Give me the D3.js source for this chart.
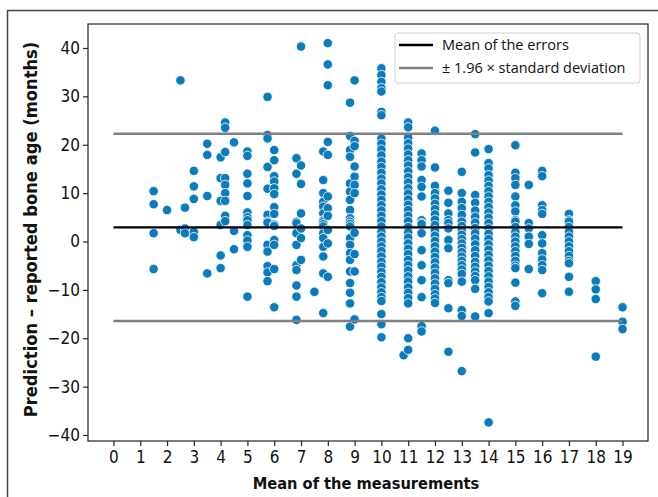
<!DOCTYPE html>
<html><head><meta charset="utf-8">
<script src="https://cdn.jsdelivr.net/npm/d3@7"></script>
<style>
html,body{margin:0;padding:0;background:#fff;}
svg{display:block;}
.tick text{font-family:"Liberation Sans Narrow","DejaVu Sans Condensed","Liberation Sans",sans-serif;font-size:17px;fill:#111;}
</style>
</head><body>
<svg id="chart" width="658" height="497"></svg>
<script>
// x positions (mean of the measurements) of each column of points
const columnX = [1.5, 2.0, 2.5, 2.67, 3.0, 3.5, 4.0, 4.17, 4.5, 5.0, 5.75, 6.0, 6.83, 7.0, 7.5, 7.83, 8.0, 8.83, 9.0, 10.0, 10.83, 11.0, 11.5, 12.0, 12.5, 13.0, 13.5, 14.0, 15.0, 15.5, 16.0, 17.0, 18.0, 19.0];
// differences (prediction - reported bone age, months) in each column
const columnY = [
  [10.4, 7.7, 1.7, -5.7],
  [6.5],
  [33.3, 2.4],
  [7.0, 2.7, 1.7],
  [14.6, 11.4, 8.8, 2.0, 0.9],
  [20.2, 17.9, 9.4, -6.6],
  [17.4, 13.1, 8.4, 3.5, 3.4, -2.9, -5.5],
  [24.6, 23.5, 18.5, 13.1, 11.7, 10.0, 8.4, 5.3, 4.2],
  [20.5, 2.2, -1.6],
  [18.6, 17.7, 14.0, 12.0, 9.4, 6.0, 5.0, 4.4, 3.4, 1.3, 0.2, -1.1, -11.4],
  [29.9, 22.0, 21.3, 15.4, 10.9, 5.5, 4.1, 3.9, -0.7, -2.1, -5.1, -6.4, -8.2],
  [18.9, 16.8, 13.5, 12.4, 11.0, 9.8, 7.1, 5.7, 3.5, 3.2, 0.3, -0.7, -5.7, -13.6],
  [17.2, 14.0, 4.1, 3.8, 1.7, -0.7, -4.9, -5.9, -9.1, -11.4, -16.2],
  [40.3, 15.7, 11.9, 5.8, 2.7, 0.7, -3.8],
  [-10.4],
  [18.6, 12.7, 10.0, 8.2, 7.2, 5.8, 4.4, 4.1, 3.6, 3.1, 1.7, 0.7, -1.1, -3.1, -6.6, -14.8],
  [41.0, 36.6, 32.3, 20.6, 17.9, 9.3, 6.9, 5.3, 2.4, -0.4, -7.3],
  [28.7, 21.8, 18.9, 17.5, 12.0, 10.3, 8.6, 6.5, 4.8, 4.1, 3.6, 3.1, 0.7, -0.7, -2.4, -3.8, -6.2, -8.6, -10.6, -12.8, -17.6],
  [33.3, 20.8, 19.7, 15.5, 13.4, 11.7, 10.0, 1.8, -2.6, -6.2, -16.1],
  [35.8, 34.4, 33.0, 31.7, 31.0, 26.8, 26.1, 21.3, 20.2, 19.0, 17.8, 16.5, 15.4, 14.2, 13.0, 12.0, 10.8, 9.7, 8.6, 7.5, 6.4, 5.3, 4.2, 3.1, 2.0, 1.0, 0.0, -1.0, -2.0, -3.1, -4.2, -5.2, -6.3, -7.3, -8.4, -9.5, -10.5, -11.5, -12.3, -15.0, -17.1, -19.8],
  [-23.5],
  [24.6, 23.6, 21.5, 20.3, 19.2, 18.0, 16.8, 15.7, 14.5, 13.3, 12.2, 11.0, 9.9, 8.7, 7.6, 6.5, 5.3, 4.2, 3.0, 1.9, 0.8, -0.4, -1.5, -2.6, -3.8, -4.9, -6.0, -7.2, -8.3, -9.5, -10.6, -11.7, -12.8, -20.0, -22.4],
  [18.2, 16.8, 15.5, 12.7, 11.3, 9.3, 4.4, 3.8, 3.6, 1.7, -1.8, -4.9, -8.0, -11.5, -17.5, -18.6],
  [22.9, 15.3, 11.5, 10.0, 8.9, 7.8, 6.7, 5.6, 4.5, 3.4, 2.3, 1.2, 0.1, -1.0, -2.1, -3.2, -4.3, -5.4, -6.5, -7.6, -8.7, -9.8, -10.9, -11.8, -12.7],
  [10.5, 8.0, 5.8, 4.4, 3.8, 2.7, 0.3, -1.4, -8.0, -8.6, -13.8, -22.8],
  [14.4, 10.0, 8.2, 6.9, 5.5, 4.1, 3.2, 2.3, 1.4, 0.5, -0.4, -1.3, -2.2, -3.1, -4.0, -4.9, -5.8, -6.7, -8.3, -14.2, -15.4, -26.8],
  [22.2, 18.4, 9.6, 8.0, 6.4, 5.1, 3.9, 2.8, 1.7, 0.6, -0.6, -1.8, -3.0, -4.2, -5.2, -6.2, -7.1, -8.0, -9.8, -15.5],
  [19.1, 16.2, 15.1, 13.7, 12.6, 11.5, 10.4, 9.3, 8.2, 7.1, 6.0, 4.9, 3.8, 2.7, 1.6, 0.5, -0.6, -1.7, -2.8, -3.9, -5.0, -6.1, -7.2, -8.3, -9.4, -10.5, -11.5, -12.4, -14.8, -37.4],
  [19.9, 14.2, 13.1, 11.7, 9.3, 7.5, 6.2, 4.4, 4.1, 3.0, 2.0, 1.0, 0.0, -1.0, -2.0, -3.0, -4.0, -5.0, -5.5, -8.5, -12.4, -13.3],
  [11.7, 3.8, 2.7, 1.0, -0.5, -5.7],
  [14.6, 13.5, 7.5, 6.5, 5.7, 1.3, -0.4, -2.4, -3.7, -4.9, -5.9, -10.7],
  [5.7, 4.4, 4.1, 3.0, 2.0, 1.0, 0.0, -1.0, -2.0, -3.0, -4.0, -4.5, -7.3, -10.4],
  [-8.2, -9.9, -11.9, -23.8],
  [-13.6, -16.6, -18.1]
];
const meanError = 2.9;
const upperLimit = 22.25;
const lowerLimit = -16.45;
const lineRange = [0, 19];
const xTicks = d3.range(0, 20);
const yTicks = [-40, -30, -20, -10, 0, 10, 20, 30, 40];
const legendLabels = ["Mean of the errors", "\u00b1 1.96 \u00d7 standard deviation"];

const svg = d3.select("#chart");
const L = 88, R = 648, T = 24, B = 441;
const x = d3.scaleLinear().domain([-0.95, 19.95]).range([L, R]);
const y = d3.scaleLinear().domain([-41.24, 44.96]).range([B, T]);
const condensed = '"Liberation Sans Narrow","DejaVu Sans Condensed","Liberation Sans",sans-serif';

// outer figure frame
svg.append("rect").attr("x", 7.5).attr("y", 10.5).attr("width", 700).attr("height", 600)
  .attr("fill", "none").attr("stroke", "#444").attr("stroke-width", 1.5);

// points
const pts = [];
columnX.forEach((cx, i) => columnY[i].forEach(v => pts.push([cx, v])));
svg.append("g").selectAll("circle").data(pts).join("circle")
  .attr("cx", d => x(d[0])).attr("cy", d => y(d[1])).attr("r", 4.7)
  .attr("fill", "#0a7bbb").attr("stroke", "#fff").attr("stroke-width", 0.8);

// reference lines
function hline(v, color, w) {
  svg.append("line").attr("x1", x(lineRange[0])).attr("x2", x(lineRange[1]))
    .attr("y1", y(v)).attr("y2", y(v)).attr("stroke", color).attr("stroke-width", w);
}
hline(upperLimit, "#7f7f7f", 2.5);
hline(lowerLimit, "#7f7f7f", 2.5);
hline(meanError, "#000", 2.2);

// frame
svg.append("rect").attr("x", L).attr("y", T).attr("width", R - L).attr("height", B - T)
  .attr("fill", "none").attr("stroke", "#222").attr("stroke-width", 1.2);

// axes
const xa = svg.append("g").attr("transform", `translate(0,${B})`)
  .call(d3.axisBottom(x).tickValues(xTicks).tickSize(5).tickPadding(5).tickFormat(d3.format("d")));
const ya = svg.append("g").attr("transform", `translate(${L},0)`)
  .call(d3.axisLeft(y).tickValues(yTicks).tickSize(5).tickPadding(3));
[xa, ya].forEach(a => { a.select(".domain").remove(); a.selectAll(".tick line").attr("stroke", "#222").attr("stroke-width", 1.2); });

// axis titles
svg.append("text").attr("x", (L + R) / 2 - 2).attr("y", 489).attr("text-anchor", "middle")
  .style("font-family", condensed)
  .style("font-size", "16.3px").style("font-weight", "bold").attr("fill", "#111")
  .text("Mean of the measurements");
svg.append("text").attr("transform", `translate(37,${(T + B) / 2 - 3}) rotate(-90)`).attr("text-anchor", "middle")
  .style("font-family", condensed)
  .style("font-size", "18.2px").style("font-weight", "bold").attr("fill", "#111")
  .text("Prediction \u2013 reported bone age (months)");

// legend
const lg = svg.append("g");
lg.append("rect").attr("x", 395).attr("y", 33).attr("width", 245).attr("height", 50).attr("rx", 3)
  .attr("fill", "#fff").attr("stroke", "#d0d0d0").attr("stroke-width", 1);
const lcol = ["#000", "#7f7f7f"];
legendLabels.forEach((t, i) => {
  const yy = 45 + i * 23;
  lg.append("line").attr("x1", 399).attr("x2", 433).attr("y1", yy).attr("y2", yy)
    .attr("stroke", lcol[i]).attr("stroke-width", 2.3);
  lg.append("text").attr("x", 442).attr("y", yy + 5)
    .style("font-family", '"Open Sans","Liberation Sans",sans-serif').style("font-size", "14.5px").attr("fill", "#111")
    .text(t);
});
</script>
</body></html>
